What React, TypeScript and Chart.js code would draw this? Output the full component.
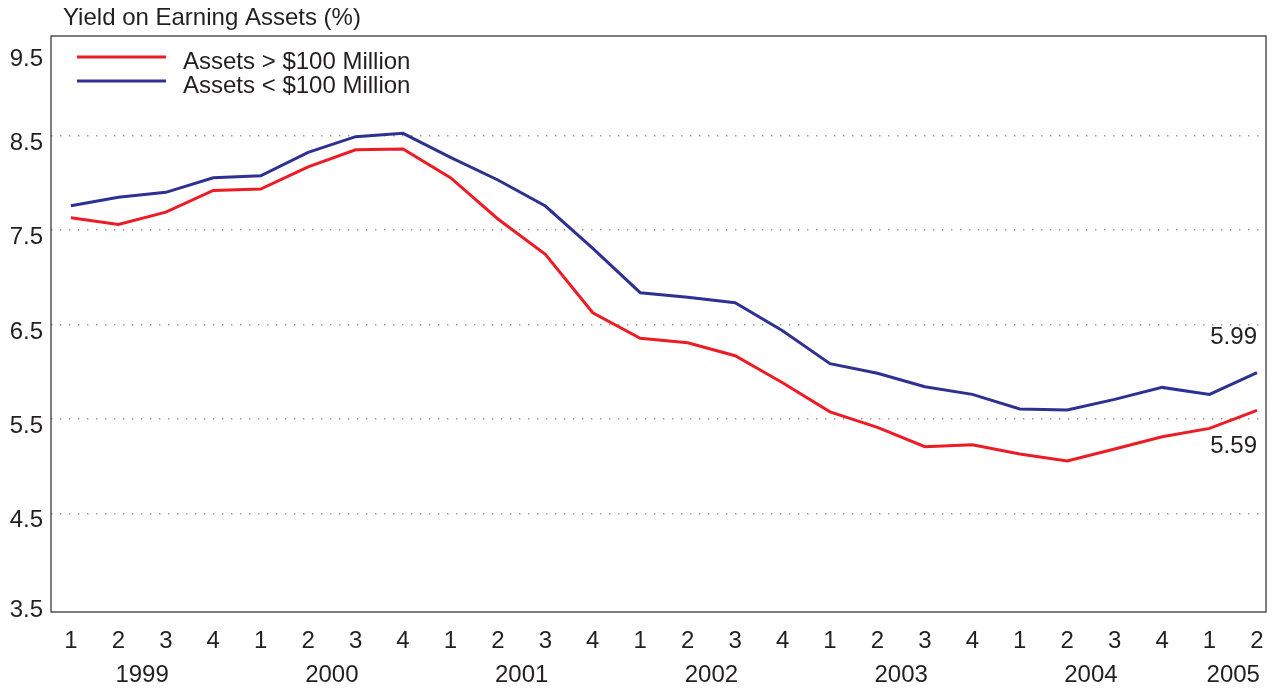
import React, { useEffect, useRef } from "react";
import { Chart, registerables } from "chart.js";

Chart.register(...registerables);

const FONT = '"Liberation Sans", Arial, Helvetica, sans-serif';
const TEXT = "#231f20";
const FS = 24;

const titleText = "Yield on Earning Assets (%)";

const quarterLabels = [
  "1", "2", "3", "4", "1", "2", "3", "4", "1", "2", "3", "4", "1",
  "2", "3", "4", "1", "2", "3", "4", "1", "2", "3", "4", "1", "2",
];
const quarterYears = [
  "1999", "1999", "1999", "1999", "2000", "2000", "2000", "2000",
  "2001", "2001", "2001", "2001", "2002", "2002", "2002", "2002",
  "2003", "2003", "2003", "2003", "2004", "2004", "2004", "2004",
  "2005", "2005",
];

const yTickValues = [3.5, 4.5, 5.5, 6.5, 7.5, 8.5, 9.5];

const largeLabel = "Assets > $100 Million";
const largeBanks = [
  7.63, 7.56, 7.69, 7.92, 7.935, 8.17, 8.35, 8.36, 8.055, 7.618, 7.244,
  6.625, 6.354, 6.307, 6.169, 5.884, 5.575, 5.41, 5.206, 5.227, 5.128,
  5.054, 5.181, 5.311, 5.4, 5.59,
];

const smallLabel = "Assets < $100 Million";
const smallBanks = [
  7.758, 7.847, 7.9, 8.055, 8.076, 8.324, 8.49, 8.525, 8.271, 8.031, 7.755,
  7.307, 6.837, 6.788, 6.731, 6.434, 6.085, 5.983, 5.841, 5.76, 5.605,
  5.594, 5.707, 5.834, 5.76, 5.99,
];

const RED = "#ed1c24";
const BLUE = "#2e3192";

const overlay = {
  id: "overlay",
  afterDraw(chart: any) {
    const { ctx, chartArea, scales } = chart;
    const { left, top, right, bottom } = chartArea;
    const x = scales.x;
    const y = scales.y;
    ctx.save();

    // frame
    ctx.strokeStyle = "#3a3a3a";
    ctx.lineWidth = 1.3;
    ctx.strokeRect(left, top, right - left, bottom - top);

    ctx.fillStyle = TEXT;
    ctx.font = `${FS}px ${FONT}`;
    ctx.textBaseline = "alphabetic";

    // title
    ctx.textAlign = "left";
    ctx.fillText(titleText, left + 12, 25);

    // y tick labels
    ctx.textAlign = "right";
    y.ticks.forEach((t: any) => {
      const p = y.getPixelForValue(t.value) + 14;
      const py = Math.min(Math.max(p, top + 30), bottom + 5);
      ctx.fillText(Number(t.value).toFixed(1), left - 8, py);
    });

    // quarter labels
    ctx.textAlign = "center";
    x.ticks.forEach((t: any) => {
      const lbl = quarterLabels[Math.round(t.value)];
      if (lbl !== undefined) ctx.fillText(lbl, x.getPixelForValue(t.value), 648);
    });

    // year labels
    const seen: string[] = [];
    quarterYears.forEach((yr) => {
      if (seen.indexOf(yr) === -1) seen.push(yr);
    });
    seen.forEach((yr) => {
      const first = quarterYears.indexOf(yr);
      const last = quarterYears.lastIndexOf(yr);
      const px = x.getPixelForValue((first + last) / 2);
      ctx.fillText(yr, px, 682);
    });

    // legend
    const ds = chart.data.datasets;
    ds.forEach((d: any, i: number) => {
      const ly = top + 21 + i * 24;
      ctx.strokeStyle = d.borderColor;
      ctx.lineWidth = 3;
      ctx.beginPath();
      ctx.moveTo(left + 26, ly);
      ctx.lineTo(left + 115, ly);
      ctx.stroke();
      ctx.textAlign = "left";
      ctx.fillStyle = TEXT;
      ctx.fillText(d.label, left + 132, ly + 12);
    });

    // end labels
    ctx.textAlign = "right";
    const lastIdx = smallBanks.length - 1;
    const ex = x.getPixelForValue(lastIdx);
    ctx.fillText(
      smallBanks[lastIdx].toFixed(2),
      ex,
      y.getPixelForValue(smallBanks[lastIdx]) - 29
    );
    ctx.fillText(
      largeBanks[lastIdx].toFixed(2),
      ex,
      y.getPixelForValue(largeBanks[lastIdx]) + 43
    );

    ctx.restore();
  },
};

export default function App() {
  const ref = useRef<HTMLCanvasElement | null>(null);

  useEffect(() => {
    if (!ref.current) return;
    const chart = new Chart(ref.current, {
      type: "line",
      data: {
        datasets: [
          {
            label: largeLabel,
            data: largeBanks.map((v, i) => ({ x: i, y: v })),
            borderColor: RED,
            backgroundColor: RED,
            borderWidth: 3,
            pointRadius: 0,
            tension: 0,
          },
          {
            label: smallLabel,
            data: smallBanks.map((v, i) => ({ x: i, y: v })),
            borderColor: BLUE,
            backgroundColor: BLUE,
            borderWidth: 3,
            pointRadius: 0,
            tension: 0,
          },
        ],
      },
      options: {
        responsive: false,
        animation: false,
        layout: { padding: { top: 36, right: 10, left: 0, bottom: 0 } },
        plugins: {
          legend: { display: false },
          tooltip: { enabled: false },
          title: { display: false },
        },
        scales: {
          x: {
            type: "linear",
            min: -0.42,
            max: 25.19,
            afterBuildTicks: (scale: any) => {
              scale.ticks = quarterLabels.map((_, i) => ({ value: i }));
            },
            afterFit: (scale: any) => {
              scale.height = 77;
              scale.paddingLeft = 0;
              scale.paddingRight = 0;
            },
            grid: { display: false, drawTicks: false },
            border: { display: false },
            ticks: { display: false },
          },
          y: {
            type: "linear",
            min: 3.455,
            max: 9.556,
            afterBuildTicks: (scale: any) => {
              scale.ticks = yTickValues.map((v) => ({ value: v }));
            },
            afterFit: (scale: any) => {
              scale.width = 51;
              scale.paddingTop = 0;
              scale.paddingBottom = 0;
            },
            ticks: { display: false },
            grid: {
              drawTicks: false,
              lineWidth: 1.4,
              color: (c: any) =>
                c.tick && (c.tick.value === 3.5 || c.tick.value === 9.5)
                  ? "rgba(0,0,0,0)"
                  : "#9a9a9a",
            },
            border: { display: false, dash: [1.4, 7.6] },
          },
        },
      },
      plugins: [overlay],
    });
    return () => chart.destroy();
  }, []);

  return (
    <div
      style={{
        position: "fixed",
        left: 0,
        top: 0,
        width: 1276,
        height: 689,
        background: "#fff",
      }}
    >
      <canvas
        ref={ref}
        width={1276}
        height={689}
        style={{ display: "block", width: 1276, height: 689 }}
      />
    </div>
  );
}
